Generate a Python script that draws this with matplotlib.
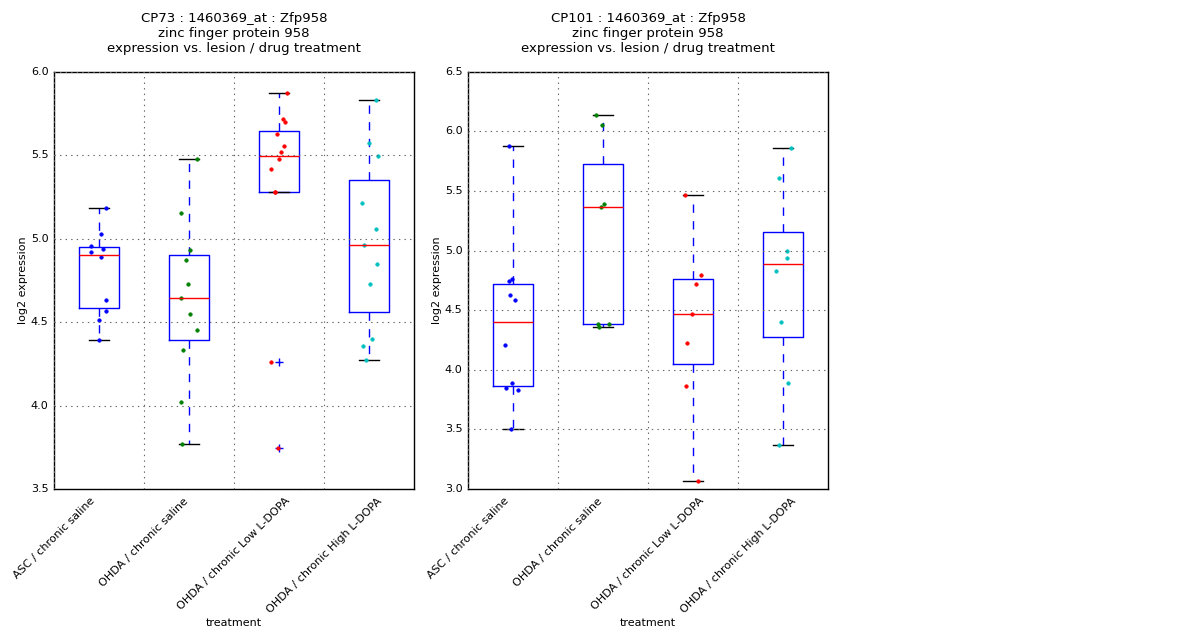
import numpy as np
import matplotlib
matplotlib.use('Agg')
import matplotlib.pyplot as plt

plt.style.use('classic')

groups = ['ASC / chronic saline', 'OHDA / chronic saline',
          'OHDA / chronic Low L-DOPA', 'OHDA / chronic High L-DOPA']
colors = ['b', 'g', 'r', 'c']

# CP73 panel: log2 expression per group, with the horizontal jitter of each dot
cp73_vals = [
    [5.184, 5.025, 4.953, 4.935, 4.917, 4.887, 4.635, 4.569, 4.515, 4.395],
    [5.478, 5.155, 4.929, 4.869, 4.729, 4.645, 4.549, 4.453, 4.333, 4.023, 3.770],
    [5.873, 5.714, 5.696, 5.624, 5.552, 5.516, 5.474, 5.414, 5.282, 5.280, 4.262, 3.746],
    [5.832, 5.570, 5.492, 5.216, 5.060, 4.964, 4.845, 4.725, 4.401, 4.359, 4.275],
]
cp73_jit = [
    [0.081, 0.022, -0.089, 0.044, -0.089, 0.022, 0.081, 0.081, 0.0, 0.0],
    [0.085, -0.093, 0.007, -0.037, -0.015, -0.093, 0.007, 0.085, -0.07, -0.093, -0.081],
    [0.085, 0.041, 0.063, -0.019, 0.052, 0.019, -0.004, -0.093, -0.041, -0.05, -0.093, -0.015],
    [0.074, -0.004, 0.096, -0.081, 0.074, -0.059, 0.085, 0.007, 0.03, -0.07, -0.037],
]

# CP101 panel
cp101_vals = [
    [5.877, 4.758, 4.747, 4.630, 4.588, 4.210, 3.892, 3.850, 3.830, 3.506],
    [6.140, 6.056, 5.393, 5.368, 4.386, 4.386, 4.361],
    [5.466, 4.798, 4.722, 4.468, 4.227, 3.866, 3.069],
    [5.860, 5.611, 4.999, 4.937, 4.831, 4.403, 3.892, 3.371],
]
cp101_jit = [
    [-0.041, -0.015, -0.041, -0.03, 0.026, -0.085, -0.007, -0.074, 0.059, -0.019],
    [-0.081, -0.015, 0.007, -0.026, -0.059, 0.063, -0.048],
    [-0.093, 0.085, 0.03, -0.015, -0.07, -0.081, 0.052],
    [0.085, -0.048, 0.041, 0.041, -0.074, -0.026, 0.052, -0.048],
]

panels = [
    ('CP73', cp73_vals, cp73_jit, (3.5, 6.0)),
    ('CP101', cp101_vals, cp101_jit, (3.0, 6.5)),
]

fig = plt.figure(figsize=(12, 6.4), facecolor='white')
lefts = [0.045, 0.39]

for left, (name, vals, jit, ylim) in zip(lefts, panels):
    ax = fig.add_axes([left, 0.236, 0.3, 0.652])
    pos = np.arange(1, len(groups) + 1)
    ax.boxplot(vals, positions=pos, widths=0.45,
               whiskerprops=dict(color='b', linestyle=(0, (6, 6))),
               flierprops=dict(marker='+', markeredgecolor='b', markersize=6))
    for i in range(len(groups)):
        x = pos[i] + np.array(jit[i])
        ax.plot(x, vals[i], 'o', color=colors[i], mec=colors[i], ms=2.5)
    ax.set_xlim(0.5, 4.5)
    ax.set_ylim(*ylim)
    yt = np.arange(ylim[0], ylim[1] + 0.01, 0.5)
    ax.set_yticks(yt)
    ax.set_yticklabels(['%.1f' % v for v in yt])
    # labels sit on the grid lines between boxes, as in the original
    ax.set_xticks(pos - 0.5)
    ax.set_xticklabels(groups, rotation=45, ha='center', fontsize=8)
    ax.tick_params(axis='both', which='both', length=0, labelsize=8)
    ax.tick_params(axis='x', pad=5)
    ax.grid(True, color='0.4', linestyle=':', linewidth=0.8)
    ax.set_xlabel('treatment', fontsize=8, labelpad=2)
    ax.set_ylabel('log2 expression', fontsize=8, labelpad=2)
    ax.set_title('%s : 1460369_at : Zfp958\nzinc finger protein 958\n'
                 'expression vs. lesion / drug treatment' % name,
                 fontsize=9.5, pad=14)

fig.savefig('out.png', dpi=100, facecolor='white')
